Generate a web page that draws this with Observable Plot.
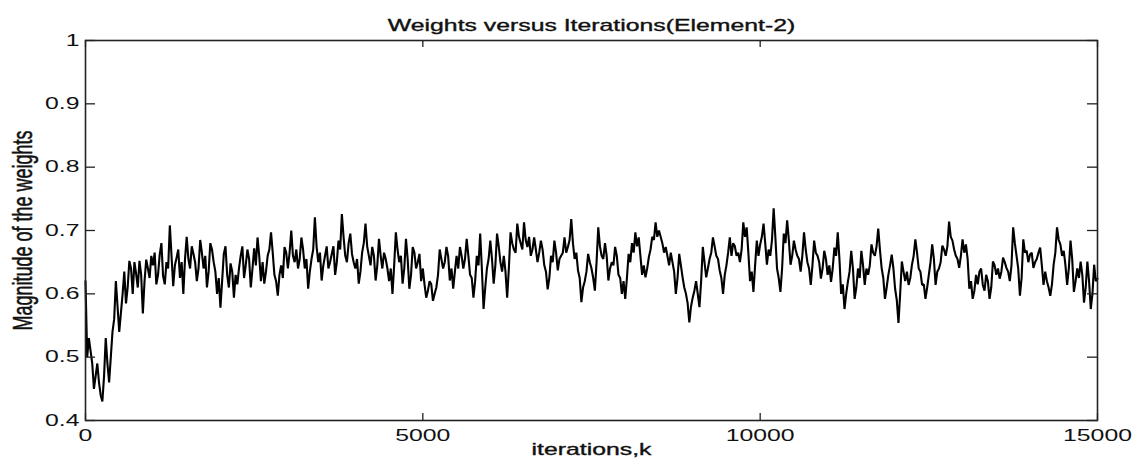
<!DOCTYPE html>
<html><head><meta charset="utf-8">
<script src="https://cdn.jsdelivr.net/npm/d3@7"></script>
<script src="https://cdn.jsdelivr.net/npm/@observablehq/plot@0.6"></script>
<style>html,body{margin:0;padding:0;background:#fff;} svg{display:block;}</style>
</head><body><div id="chart"></div>
<script>
const titleText = "Weights versus Iterations(Element-2)";
const xLabelText = "iterations,k";
const yLabelText = "Magnitude of the weights";

const xTicks = [0, 5000, 10000, 15000];
const xTickLabels = ["0", "5000", "10000", "15000"];
const yTicks = [0.4, 0.5, 0.6, 0.7, 0.8, 0.9, 1];
const yTickLabels = ["0.4", "0.5", "0.6", "0.7", "0.8", "0.9", "1"];

const iterStep = 25; // one value every 25 iterations, 0..15000 (20 values per 500 iterations)
const weights = [
  0.62,0.50,0.53,0.51,0.49,0.45,0.47,0.49,0.46,0.44,0.43,0.47,0.53,0.49,0.46,0.50,0.54,0.56,0.62,0.58,
  0.54,0.57,0.60,0.635,0.585,0.61,0.652,0.64,0.60,0.65,0.632,0.61,0.652,0.63,0.569,0.62,0.654,0.64,0.625,0.66,
  0.645,0.665,0.615,0.63,0.662,0.68,0.628,0.615,0.65,0.64,0.708,0.66,0.612,0.645,0.657,0.67,0.625,0.65,0.60,0.655,
  0.69,0.655,0.64,0.675,0.663,0.65,0.62,0.64,0.685,0.665,0.64,0.66,0.61,0.635,0.68,0.67,0.65,0.635,0.60,0.625,
  0.578,0.62,0.663,0.675,0.63,0.61,0.648,0.635,0.594,0.63,0.615,0.64,0.66,0.675,0.625,0.645,0.67,0.655,0.61,0.64,
  0.672,0.645,0.689,0.66,0.62,0.65,0.616,0.635,0.66,0.67,0.697,0.665,0.63,0.62,0.597,0.63,0.645,0.625,0.674,0.665,
  0.64,0.665,0.70,0.66,0.65,0.67,0.64,0.655,0.689,0.67,0.64,0.655,0.608,0.635,0.655,0.67,0.721,0.675,0.65,0.665,
  0.621,0.645,0.66,0.675,0.64,0.65,0.663,0.675,0.63,0.65,0.684,0.67,0.726,0.69,0.66,0.65,0.68,0.695,0.663,0.65,
  0.64,0.655,0.616,0.635,0.665,0.68,0.711,0.675,0.66,0.645,0.674,0.66,0.621,0.645,0.687,0.66,0.64,0.665,0.655,0.64,
  0.62,0.64,0.60,0.645,0.697,0.67,0.65,0.66,0.616,0.64,0.687,0.655,0.608,0.63,0.674,0.665,0.64,0.65,0.663,0.62,
  0.64,0.615,0.594,0.605,0.62,0.615,0.589,0.60,0.61,0.63,0.67,0.655,0.64,0.65,0.674,0.66,0.621,0.64,0.608,0.635,
  0.66,0.64,0.674,0.66,0.64,0.655,0.687,0.66,0.63,0.625,0.594,0.62,0.66,0.645,0.695,0.64,0.576,0.61,0.64,0.655,
  0.684,0.655,0.616,0.645,0.695,0.675,0.65,0.635,0.66,0.635,0.594,0.64,0.697,0.68,0.67,0.665,0.711,0.69,0.68,0.67,
  0.713,0.685,0.674,0.69,0.66,0.67,0.689,0.67,0.65,0.665,0.684,0.67,0.645,0.635,0.607,0.625,0.66,0.65,0.684,0.665,
  0.637,0.655,0.66,0.665,0.689,0.665,0.674,0.685,0.718,0.68,0.655,0.665,0.637,0.625,0.587,0.61,0.62,0.635,0.663,0.65,
  0.64,0.625,0.605,0.65,0.705,0.675,0.66,0.655,0.68,0.66,0.621,0.64,0.65,0.645,0.674,0.66,0.63,0.625,0.60,0.62,
  0.592,0.625,0.663,0.65,0.68,0.665,0.697,0.675,0.689,0.66,0.63,0.645,0.626,0.64,0.658,0.67,0.69,0.685,0.713,0.69,
  0.70,0.69,0.68,0.665,0.674,0.66,0.645,0.665,0.65,0.635,0.60,0.625,0.663,0.645,0.626,0.61,0.60,0.585,0.555,0.58,
  0.594,0.605,0.62,0.60,0.579,0.62,0.674,0.65,0.626,0.64,0.655,0.665,0.689,0.675,0.66,0.655,0.637,0.625,0.60,0.63,
  0.645,0.665,0.689,0.66,0.68,0.675,0.66,0.665,0.65,0.67,0.713,0.69,0.705,0.665,0.62,0.635,0.603,0.645,0.684,0.66,
  0.678,0.69,0.711,0.68,0.646,0.67,0.66,0.685,0.735,0.69,0.64,0.625,0.603,0.64,0.695,0.68,0.716,0.685,0.646,0.66,
  0.684,0.67,0.66,0.655,0.635,0.66,0.697,0.67,0.65,0.64,0.614,0.645,0.684,0.665,0.66,0.65,0.624,0.64,0.668,0.655,
  0.63,0.645,0.619,0.64,0.673,0.66,0.697,0.655,0.60,0.615,0.576,0.60,0.619,0.635,0.668,0.64,0.592,0.61,0.64,0.625,
  0.668,0.645,0.614,0.64,0.63,0.645,0.678,0.665,0.66,0.675,0.703,0.67,0.641,0.625,0.592,0.61,0.63,0.645,0.662,0.64,
  0.608,0.59,0.554,0.60,0.651,0.635,0.62,0.635,0.614,0.625,0.646,0.66,0.686,0.665,0.64,0.635,0.614,0.615,0.592,0.61,
  0.63,0.65,0.678,0.655,0.614,0.635,0.64,0.65,0.676,0.67,0.66,0.675,0.714,0.69,0.684,0.67,0.66,0.655,0.641,0.66,
  0.686,0.665,0.678,0.655,0.608,0.62,0.592,0.605,0.63,0.615,0.635,0.64,0.614,0.605,0.63,0.62,0.592,0.61,0.651,0.645,
  0.63,0.64,0.624,0.635,0.657,0.65,0.641,0.635,0.62,0.645,0.705,0.68,0.66,0.64,0.597,0.625,0.686,0.665,0.668,0.65,
  0.662,0.665,0.641,0.65,0.655,0.665,0.673,0.645,0.614,0.635,0.62,0.61,0.597,0.615,0.646,0.665,0.705,0.685,0.678,0.66,
  0.668,0.645,0.614,0.64,0.684,0.655,0.603,0.62,0.64,0.625,0.651,0.63,0.586,0.61,0.651,0.62,0.576,0.60,0.646,0.62,
  0.624
];

const data = weights.map((w, i) => ({k: i * iterStep, w}));

const W = 1137, H = 463;
const mL = 85, mR = 40, mT = 40, mB = 43;
const plotW = W - mL - mR, plotH = H - mT - mB;
const yTickLen = 10, xTickLen = 7;
const textStyle = {fill: "#111", stroke: "#111", strokeWidth: 0.35};

const chart = Plot.plot({
  width: W, height: H,
  marginLeft: mL, marginRight: mR, marginTop: mT, marginBottom: mB,
  style: {fontFamily: "'Liberation Sans', Arial, Helvetica, sans-serif", fontSize: "16px", color: "#111", background: "#fff"},
  x: {domain: [0, 15000]},
  y: {domain: [0.4, 1]},
  marks: [
    Plot.line(data, {x: "k", y: "w", stroke: "#000", strokeWidth: 2.1, strokeLinejoin: "miter"}),
    Plot.tickX(xTicks, {x: d => d, stroke: "#222", strokeWidth: 1.3, insetTop: plotH - xTickLen}),
    Plot.tickX(xTicks, {x: d => d, stroke: "#222", strokeWidth: 1.3, insetBottom: plotH - xTickLen}),
    Plot.tickY(yTicks, {y: d => d, stroke: "#222", strokeWidth: 1.3, insetRight: plotW - yTickLen}),
    Plot.tickY(yTicks, {y: d => d, stroke: "#222", strokeWidth: 1.3, insetLeft: plotW - yTickLen}),
    Plot.frame({stroke: "#222", strokeWidth: 1.6}),
    Plot.axisX({ticks: xTicks, tickSize: 0, tickPadding: 9, label: null, ...textStyle,
      tickFormat: d => xTickLabels[xTicks.indexOf(d)]}),
    Plot.axisY({ticks: yTicks, tickSize: 0, tickPadding: 6, label: null, ...textStyle,
      tickFormat: d => yTickLabels[yTicks.findIndex(t => Math.abs(t - d) < 1e-9)]}),
    Plot.text([titleText], {frameAnchor: "top", dy: -21, fontSize: 16, textAnchor: "middle", ...textStyle}),
    Plot.text([xLabelText], {frameAnchor: "bottom", dy: 34, fontSize: 16, textAnchor: "middle", ...textStyle}),
    Plot.text([yLabelText], {frameAnchor: "left", dx: -62, rotate: -90, fontSize: 18, textAnchor: "middle", ...textStyle})
  ]
});

// The reference typography is horizontally stretched: widen every text in screen x.
const SX = 1.55;
chart.querySelectorAll("text").forEach(t => {
  const tr = t.getAttribute("transform");
  if (tr && /^translate\(/.test(tr)) {
    t.setAttribute("transform", tr.replace(/^(translate\([^)]*\))/, `$1 scale(${SX},1)`));
  } else {
    const x = +t.getAttribute("x") || 0, y = +t.getAttribute("y") || 0;
    t.removeAttribute("x"); t.removeAttribute("y");
    t.setAttribute("transform", `translate(${x},${y}) scale(${SX},1)` + (tr ? " " + tr : ""));
  }
});

document.getElementById("chart").appendChild(chart);
</script>
</body></html>
